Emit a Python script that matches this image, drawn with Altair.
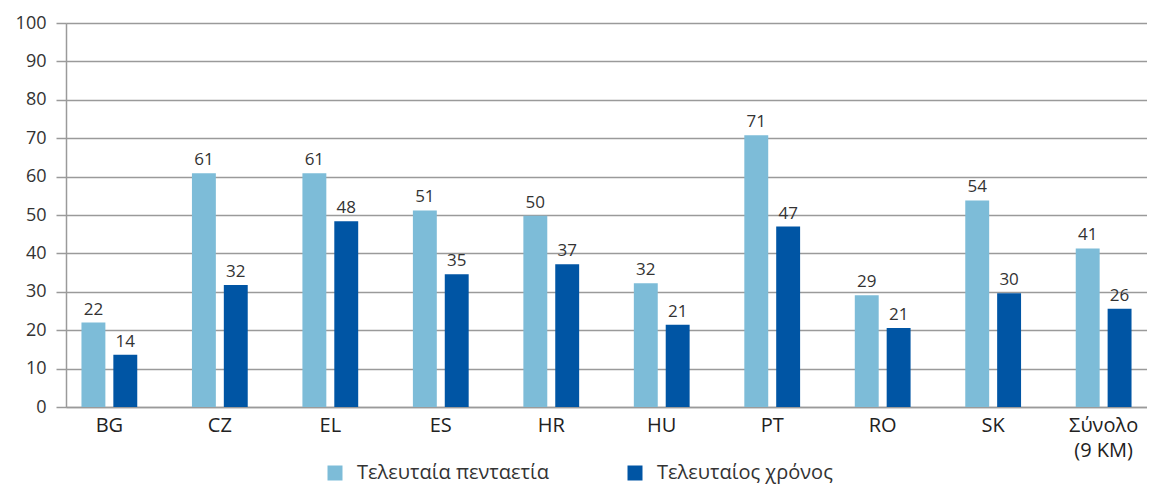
import altair as alt
import pandas as pd

categories = ["BG", "CZ", "EL", "ES", "HR", "HU", "PT", "RO", "SK", "Σύνολο\n(9 KM)"]
series_names = ["Τελευταία πενταετία", "Τελευταίος χρόνος"]
last_five_years = [22.0, 60.9, 60.9, 51.2, 49.8, 32.2, 70.8, 29.1, 53.8, 41.3]
last_year = [13.6, 31.8, 48.4, 34.6, 37.2, 21.4, 47.0, 20.6, 29.6, 25.6]
colors = ["#7dbcd8", "#0055a4"]
y_ticks = [0, 10, 20, 30, 40, 50, 60, 70, 80, 90, 100]

rows = []
for c, a, b in zip(categories, last_five_years, last_year):
    rows.append({"cat": c, "series": series_names[0], "value": a})
    rows.append({"cat": c, "series": series_names[1], "value": b})
df = pd.DataFrame(rows)

FONT = "Open Sans"

x_enc = alt.X(
    "cat:N",
    sort=categories,
    title=None,
    scale=alt.Scale(paddingInner=0.495, paddingOuter=0.14),
    axis=alt.Axis(
        labelAngle=0,
        labelFontSize=20,
        labelColor="#222222",
        labelFont=FONT,
        labelPadding=8,
        labelOverlap=False,
        ticks=False,
        domainColor="#9a9a9a",
        domainWidth=1.5,
        labelExpr="split(datum.label, '\\n')",
        labelLineHeight=25,
    ),
)
xoff = alt.XOffset("series:N", sort=series_names, scale=alt.Scale(paddingInner=0.25))

y_enc = alt.Y(
    "value:Q",
    title=None,
    scale=alt.Scale(domain=[0, 100], nice=False),
    axis=alt.Axis(
        values=y_ticks,
        labelFontSize=18,
        labelColor="#333333",
        labelFont=FONT,
        labelPadding=10,
        labelOverlap=False,
        tickSize=10,
        tickColor="#9a9a9a",
        tickWidth=1.5,
        domainColor="#9a9a9a",
        domainWidth=1.5,
        gridColor="#9a9a9a",
        gridWidth=1.5,
    ),
)

bars = alt.Chart(df).mark_bar().encode(
    x=x_enc,
    xOffset=xoff,
    y=y_enc,
    color=alt.Color(
        "series:N",
        sort=series_names,
        scale=alt.Scale(domain=series_names, range=colors),
        legend=alt.Legend(
            title=None,
            orient="none",
            direction="horizontal",
            legendX=259,
            legendY=440,
            symbolType="square",
            symbolSize=225,
            symbolStrokeWidth=0,
            labelFontSize=20,
            labelFont=FONT,
            labelColor="#333333",
            labelOffset=12,
            labelLimit=400,
            columnPadding=76,
        ),
    ),
)

labels = alt.Chart(df).mark_text(
    baseline="alphabetic", dy=-8, fontSize=17, font=FONT, color="#333333"
).encode(
    x=x_enc,
    xOffset=xoff,
    y=y_enc,
    text=alt.Text("value:Q", format=".0f"),
)

chart = (
    alt.layer(bars, labels)
    .properties(
        width=1081,
        height=384,
        autosize=alt.AutoSizeParams(type="none"),
        padding={"left": 58, "top": 15, "right": 0, "bottom": 78},
    )
    .configure_view(stroke=None)
    .configure(background="white")
)

chart.save("out.html", embed_options={"renderer": "svg", "actions": False})
